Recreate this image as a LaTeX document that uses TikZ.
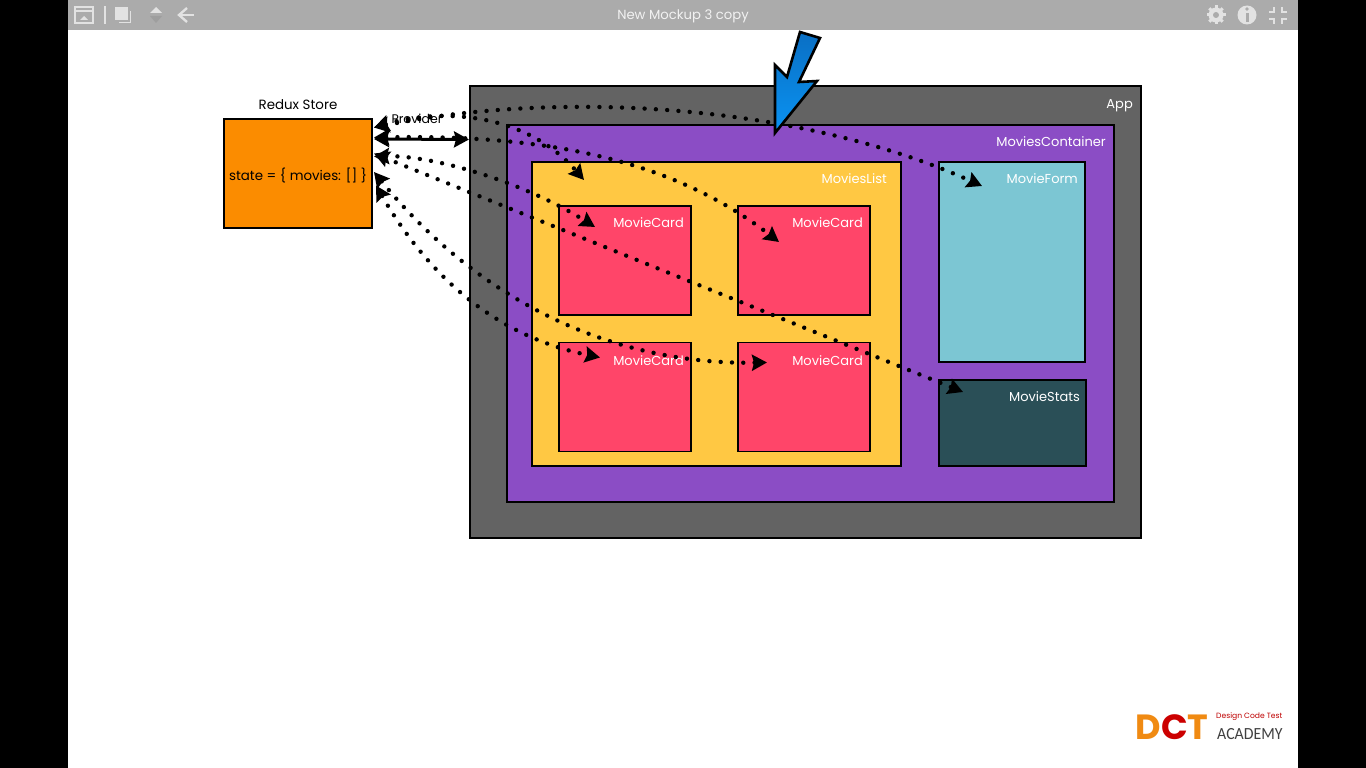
\documentclass[tikz,border=0pt]{standalone}
\usepackage{fontspec}
\setmainfont{Poppins}
\newfontfamily\logofont{Carlito}
\usetikzlibrary{arrows.meta}
\definecolor{barcol}{HTML}{ABABAB}
\definecolor{iconcol}{HTML}{E2E2E2}
\definecolor{storecol}{HTML}{FB8C00}
\definecolor{appcol}{HTML}{636363}
\definecolor{containercol}{HTML}{8B4DC5}
\definecolor{listcol}{HTML}{FFC843}
\definecolor{cardcol}{HTML}{FF4569}
\definecolor{formcol}{HTML}{7CC6D3}
\definecolor{statscol}{HTML}{2A4F57}
\definecolor{logocol}{HTML}{F08A12}
\definecolor{bluetop}{HTML}{0A6FC4}
\definecolor{bluebottom}{HTML}{0A93F2}
\tikzset{
  boxnode/.style={rectangle,draw=black,line width=1.8pt,inner sep=0pt,outer sep=0pt},
  cardnode/.style={boxnode,fill=cardcol,minimum width=132pt,minimum height=109pt},
  whitetext/.style={text=white,font=\fontsize{13}{15}\selectfont,inner sep=0pt,anchor=north east},
  darktext/.style={text=black,font=\fontsize{13.4}{15}\selectfont,inner sep=0pt},
  dotlink/.style={<->,line width=4.4pt,line cap=round,dash pattern=on 0pt off 11.3pt},
  iconline/.style={draw=iconcol,line width=1.6pt}
}
\begin{document}
\begin{tikzpicture}[x=1pt,y=-1pt,>={Stealth[black,length=15pt,width=16pt,inset=2pt]}]
\useasboundingbox (0,0) rectangle (1366,768);
\fill[white] (0,0) rectangle (1366,768);
\fill[black] (0,0) rectangle (68,768);
\fill[black] (1298,0) rectangle (1366,768);
\fill[barcol] (68,0) rectangle (1298,30);

\draw[iconline] (75,7) rectangle (93,23);
\draw[iconline] (75,11) -- (93,11);
\fill[iconcol] (80,20) -- (84,16) -- (88,20) -- cycle;
\draw[iconline] (105,6) -- (105,24);
\fill[iconcol] (115,7) rectangle (128,20);
\draw[iconline,line width=1pt] (130,11) -- (130,23) -- (119,23);
\fill[iconcol] (150,13) -- (156,7) -- (162,13) -- cycle;
\fill[iconcol!70!black] (150,16) -- (156,23) -- (162,16) -- cycle;
\draw[iconline,line width=2.4pt] (194,15) -- (180,15);
\draw[iconline,line width=2.4pt] (187,8) -- (179,15) -- (187,22);
\node[text=white!95!black,font=\fontsize{13.2}{15}\selectfont,inner sep=0pt] (Title) at (683,16.5) {New Mockup 3 copy};

\foreach \a in {0,45,...,315}
    \draw[iconline,line width=3pt] (1216,15) -- ++(\a:9.5);
\fill[iconcol] (1216,15) circle (7.5);
\fill[barcol] (1216,15) circle (3);
\fill[iconcol] (1247,15) circle (9.5);
\fill[barcol] (1245.5,13) rectangle (1248.5,22);
\fill[barcol] (1247,9) circle (1.8);
\draw[iconline] (1274,7) -- (1274,12) -- (1269,12);
\draw[iconline] (1282,7) -- (1282,12) -- (1287,12);
\draw[iconline] (1274,24) -- (1274,19) -- (1269,19);
\draw[iconline] (1282,24) -- (1282,19) -- (1287,19);

\node[boxnode,fill=storecol,minimum width=148pt,minimum height=109pt] (Store) at (298,173.5) {};
\node[boxnode,fill=appcol,minimum width=671pt,minimum height=452pt] (App) at (805.5,312) {};
\node[boxnode,fill=containercol,minimum width=607pt,minimum height=377pt] (Container) at (810.5,313.5) {};
\node[boxnode,fill=listcol,minimum width=369pt,minimum height=304pt] (List) at (716.5,314) {};
\node[cardnode] (CardA) at (625,260.5) {};
\node[cardnode] (CardB) at (804,260.5) {};
\node[cardnode] (CardC) at (625,397) {};
\node[cardnode] (CardD) at (804,397) {};
\node[boxnode,fill=formcol,minimum width=146pt,minimum height=200pt] (Form) at (1012,262) {};
\node[boxnode,fill=statscol,minimum width=147pt,minimum height=86pt] (Stats) at (1012.5,423) {};

\node[darktext] (StoreTitle) at (298,105) {Redux Store};
\node[darktext] (StoreState) at (298,175) {state = \{ movies: [] \}};
\node[darktext,font=\fontsize{12.5}{15}\selectfont] (Provider) at (417,119) {Provider};
\node[whitetext] (AppLabel) at ([shift={(-8,13)}]App.north east) {App};
\node[whitetext] (ContainerLabel) at ([shift={(-8,11)}]Container.north east) {MoviesContainer};
\node[whitetext] (ListLabel) at ([shift={(-14,11)}]List.north east) {MoviesList};
\node[whitetext] (CardALabel) at ([shift={(-7,11)}]CardA.north east) {MovieCard};
\node[whitetext] (CardBLabel) at ([shift={(-7,11)}]CardB.north east) {MovieCard};
\node[whitetext] (CardCLabel) at ([shift={(-7,13)}]CardC.north east) {MovieCard};
\node[whitetext] (CardDLabel) at ([shift={(-7,13)}]CardD.north east) {MovieCard};
\node[whitetext] (FormLabel) at ([shift={(-7,11)}]Form.north east) {MovieForm};
\node[whitetext] (StatsLabel) at ([shift={(-6,11)}]Stats.north east) {MovieStats};

\draw[<->,line width=3pt] ([shift={(2,-34.5)}]Store.east) -- ([shift={(-1,-172.5)}]App.west);
\draw[dotlink] ([shift={(2,-46)}]Store.east) .. controls (560,90) and (800,104) .. ([shift={(43,24)}]Form.north west);
\draw[dotlink] ([shift={(2,-46)}]Store.east) .. controls (440,108) and (525,112) .. ([shift={(52,18)}]List.north west);
\draw[dotlink] ([shift={(2,-36)}]Store.east) .. controls (520,135) and (660,150) .. ([shift={(41,36)}]CardB.north west);
\draw[dotlink] ([shift={(2,-17)}]Store.east) .. controls (430,155) and (520,180) .. ([shift={(36,21)}]CardA.north west);
\draw[dotlink] ([shift={(2,-20)}]Store.east) -- ([shift={(24,12)}]Stats.north west);
\draw[dotlink] ([shift={(2,-1.5)}]Store.east) .. controls (470,290) and (600,365) .. ([shift={(29,20)}]CardD.north west);
\draw[dotlink] ([shift={(4,12)}]Store.east) .. controls (425,270) and (490,335) .. ([shift={(41,15)}]CardC.north west);

\draw[black,line width=2.6pt,line join=miter,top color=bluetop,bottom color=bluebottom,shading angle=0]
    (800,32) -- (820,38) -- (799,82) -- (817,81) -- (775,133) -- (775,65) -- (787,77) -- cycle;

\node[text=logocol,font=\fontsize{35}{35}\bfseries\selectfont,inner sep=0pt] (LogoD) at (1172,727) {D\textcolor{red!80!black}{C}T};
\node[text=red!75!black,font=\fontsize{7.6}{9}\selectfont,inner sep=0pt,anchor=west] (LogoTop) at (1216,716.5) {Design Code Test};
\node[text=black!75,font=\logofont\fontsize{17}{18}\selectfont,inner sep=0pt,anchor=west] (LogoBottom) at (1217,734) {\scalebox{0.93}[1]{ACADEMY}};
\end{tikzpicture}
\end{document}
